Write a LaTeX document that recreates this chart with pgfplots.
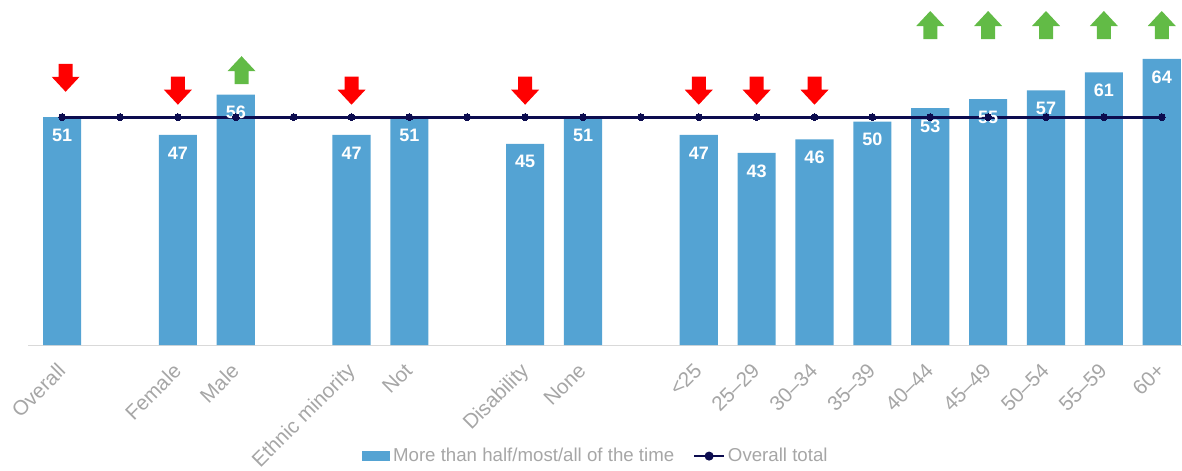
\documentclass[border=0pt]{standalone}
\usepackage{fontspec}
\setmainfont{Liberation Sans}
\usepackage{pgfplots}
\usepackage{pgfplotstable}
\pgfplotsset{compat=1.18}
\definecolor{barblue}{HTML}{54A3D3}
\definecolor{navy}{HTML}{0C0C4F}
\definecolor{upgreen}{HTML}{62BB46}
\definecolor{downred}{HTML}{FF0000}
\definecolor{txtgray}{HTML}{A6A6A6}
\definecolor{axgray}{HTML}{D9D9D9}

\pgfdeclareplotmark{arrowdown}{%
 \pgfpathmoveto{\pgfqpoint{-5.25pt}{10.5pt}}%
 \pgfpathlineto{\pgfqpoint{5.25pt}{10.5pt}}%
 \pgfpathlineto{\pgfqpoint{5.25pt}{0.75pt}}%
 \pgfpathlineto{\pgfqpoint{10.5pt}{0.75pt}}%
 \pgfpathlineto{\pgfqpoint{0pt}{-10.5pt}}%
 \pgfpathlineto{\pgfqpoint{-10.5pt}{0.75pt}}%
 \pgfpathlineto{\pgfqpoint{-5.25pt}{0.75pt}}%
 \pgfpathclose
 \pgfusepathqfill}
\pgfdeclareplotmark{arrowup}{%
 \pgfpathmoveto{\pgfqpoint{-5.25pt}{-10.5pt}}%
 \pgfpathlineto{\pgfqpoint{5.25pt}{-10.5pt}}%
 \pgfpathlineto{\pgfqpoint{5.25pt}{-0.75pt}}%
 \pgfpathlineto{\pgfqpoint{10.5pt}{-0.75pt}}%
 \pgfpathlineto{\pgfqpoint{0pt}{10.5pt}}%
 \pgfpathlineto{\pgfqpoint{-10.5pt}{-0.75pt}}%
 \pgfpathlineto{\pgfqpoint{-5.25pt}{-0.75pt}}%
 \pgfpathclose
 \pgfusepathqfill}

\pgfplotstableread{
x y
0 51
2 47
3 56
5 47
6 51
8 45
9 51
11 47
12 43
13 46
14 50
15 53
16 55
17 57
18 61
19 64
}\bardata

\pgfplotstableread{
x y
0 51
1 51
2 51
3 51
4 51
5 51
6 51
7 51
8 51
9 51
10 51
11 51
12 51
13 51
14 51
15 51
16 51
17 51
18 51
19 51
}\linedata

\pgfplotstableread{
x y
0.06 59.8
2 56.9
5 56.9
8 56.9
11 56.9
12 56.9
13 56.9
}\downdata

\pgfplotstableread{
x y
3.1 61.5
15 71.6
16 71.6
17 71.6
18 71.6
19 71.6
}\updata

\begin{document}
\begin{tikzpicture}
\begin{axis}[
  scale only axis,
  width=865.5pt, height=258.75pt,
  xmin=-0.59, xmax=19.35,
  ymin=0, ymax=77.2,
  clip=false,
  axis y line=none,
  axis x line*=bottom,
  x axis line style={axgray, line width=0.75pt, -},
  xtick={0,2,3,5,6,8,9,11,12,13,14,15,16,17,18,19},
  xticklabels={Overall,Female,Male,Ethnic minority,Not,Disability,None,<25,25–29,30–34,35–39,40–44,45–49,50–54,55–59,60+},
  major tick length=0pt,
  xticklabel style={xshift=-4.5pt, yshift=-12.4pt, rotate=45, anchor=north east, inner sep=0pt, text=txtgray,
     font=\fontsize{15.5}{17}\selectfont},
  /pgf/number format/assume math mode=true,
  legend columns=2,
  legend style={draw=none, fill=none, at={(0.4925,-0.322)}, anchor=center,
     font=\fontsize{14}{16}\selectfont, text=txtgray,
     /tikz/every even column/.append style={column sep=12pt},
     inner sep=0pt},
]
\addplot[ybar, bar width=0.66, bar shift=0pt, fill=barblue, draw=none,
  nodes near coords,
  every node near coord/.append style={text=white, anchor=center, yshift=-13.5pt,
     font=\bfseries\fontsize{13.5}{15}\selectfont},
  legend image code/.code={\fill[barblue] (0pt,-3.75pt) rectangle (21pt,3.75pt);}
  ] table[x=x,y=y] {\bardata};
\addlegendentry{More than half/most/all of the time}
\addplot[navy, line width=2.25pt, mark=*, mark size=2.6pt, mark options={fill=navy, draw=navy, line width=0pt},
  legend image code/.code={\draw[navy, line width=1.8pt] (0pt,0pt) -- (22.5pt,0pt); \fill[navy] (11.25pt,0pt) circle (2.2pt);}
  ] table[x=x,y=y] {\linedata};
\addlegendentry{Overall total}
\addplot[only marks, mark=arrowdown, color=downred, forget plot] table[x=x,y=y] {\downdata};
\addplot[only marks, mark=arrowup, color=upgreen, forget plot] table[x=x,y=y] {\updata};
\coordinate (ll) at (rel axis cs:0,0);
\end{axis}
\pgfresetboundingbox
\path (ll) ++(-21pt,-94.5pt) rectangle ++(886.5pt,353.25pt);
\end{tikzpicture}
\end{document}
